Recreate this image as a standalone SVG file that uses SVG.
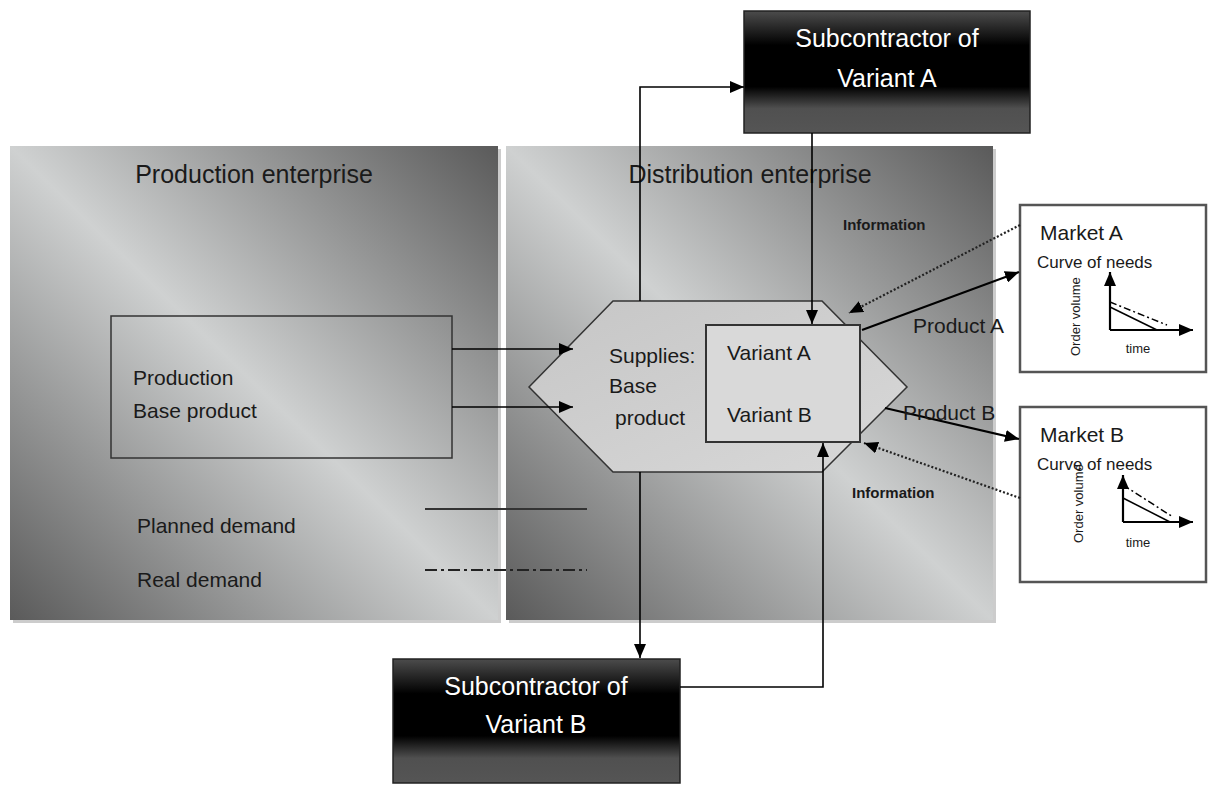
<svg xmlns="http://www.w3.org/2000/svg" width="1211" height="786" viewBox="0 0 1211 786">
<defs>
<linearGradient id="panel" x1="0" y1="1" x2="1" y2="0">
<stop offset="0" stop-color="#5a5a5a"/>
<stop offset="0.5" stop-color="#cfd1d1"/>
<stop offset="1" stop-color="#5a5a5a"/>
</linearGradient>
<linearGradient id="sub" x1="0" y1="0" x2="0" y2="1">
<stop offset="0" stop-color="#4c4c4c"/>
<stop offset="0.28" stop-color="#000"/>
<stop offset="0.62" stop-color="#000"/>
<stop offset="0.8" stop-color="#505050"/>
<stop offset="1" stop-color="#555"/>
</linearGradient>
<linearGradient id="hex" x1="0" y1="0" x2="1" y2="1">
<stop offset="0" stop-color="#c6c6c6"/>
<stop offset="1" stop-color="#d8d8d8"/>
</linearGradient>
<marker id="arr" viewBox="0 0 14 12" refX="14" refY="6" markerWidth="14" markerHeight="12" markerUnits="userSpaceOnUse" orient="auto">
<path d="M0,0 L14,6 L0,12 z" fill="#000"/>
</marker>
</defs>
<style>
text{font-family:"Liberation Sans",Arial,sans-serif;fill:#1a1a1a}
.big{font-size:25px}
.mid{font-size:21px}
.sm{font-size:17px}
.tiny{font-size:13px}
.info{font-size:15px;font-weight:bold}
.white{fill:#fff}
.panel{fill:url(#panel)}
.shadow{fill:#aaa;opacity:0.6}
.sub{fill:url(#sub);stroke:#222;stroke-width:1.5}
.box{fill:none;stroke:#333;stroke-width:1.5}
.market{fill:#fff;stroke:#555;stroke-width:2.5}
.conn{fill:none;stroke:#000;stroke-width:1.6}
.thick{fill:none;stroke:#000;stroke-width:2.2}
.dot{fill:none;stroke:#222;stroke-width:2.2;stroke-dasharray:2 2}
.solidleg{stroke:#333;stroke-width:2}
.dashleg{stroke:#222;stroke-width:2;stroke-dasharray:12 4 3 4}
</style>

<g id="production-enterprise">
<rect class="shadow" x="13" y="149" width="488" height="474"/>
<rect class="panel" x="10" y="146" width="488" height="474"/>
<text class="big" x="254" y="183" text-anchor="middle">Production enterprise</text>
</g>

<g id="distribution-enterprise">
<rect class="shadow" x="509" y="149" width="487" height="474"/>
<rect class="panel" x="506" y="146" width="487" height="474"/>
<text class="big" x="750" y="183" text-anchor="middle">Distribution enterprise</text>
</g>

<g id="production-base-product">
<rect class="box" x="111" y="316" width="341" height="142"/>
<text class="mid" x="133" y="385">Production</text>
<text class="mid" x="133" y="418">Base product</text>
</g>

<g id="legend">
<text class="mid" x="137" y="533">Planned demand</text>
<text class="mid" x="137" y="587">Real demand</text>
<line class="solidleg" x1="425" y1="509" x2="587" y2="509"/>
<line class="dashleg" x1="425" y1="570" x2="587" y2="570"/>
</g>

<g id="supplies-hexagon">
<polygon points="529,387 613,301 822,301 907,387 822,472 613,472" fill="url(#hex)" stroke="#333" stroke-width="1.5"/>
<text class="mid" x="609" y="363">Supplies:</text>
<text class="mid" x="609" y="393">Base</text>
<text class="mid" x="615" y="425">product</text>
</g>

<g id="variants">
<rect x="706" y="325" width="154" height="117" fill="#d9d9d9" stroke="#333" stroke-width="2"/>
<text class="mid" x="727" y="360">Variant A</text>
<text class="mid" x="727" y="422">Variant B</text>
</g>

<g id="subcontractor-a">
<rect class="sub" x="744" y="11" width="286" height="122"/>
<text class="big white" x="887" y="47" text-anchor="middle">Subcontractor of</text>
<text class="big white" x="887" y="87" text-anchor="middle">Variant A</text>
</g>

<g id="subcontractor-b">
<rect class="sub" x="393" y="659" width="287" height="124"/>
<text class="big white" x="536" y="695" text-anchor="middle">Subcontractor of</text>
<text class="big white" x="536" y="733" text-anchor="middle">Variant B</text>
</g>

<g id="market-a">
<rect class="market" x="1020" y="205" width="186" height="167"/>
<text class="mid" x="1040" y="240">Market A</text>
<text class="sm" x="1037" y="268">Curve of needs</text>
<line class="thick" x1="1110" y1="330" x2="1110" y2="272" marker-end="url(#arr)"/>
<line class="thick" x1="1110" y1="330" x2="1193" y2="330" marker-end="url(#arr)"/>
<line stroke="#000" stroke-width="1.5" x1="1110" y1="307" x2="1157" y2="330"/>
<line stroke="#000" stroke-width="1.5" stroke-dasharray="7 3 2 3" x1="1110" y1="302" x2="1167" y2="325"/>
<text class="tiny" transform="translate(1080,356) rotate(-90)">Order volume</text>
<text class="tiny" x="1138" y="353" text-anchor="middle">time</text>
</g>

<g id="market-b">
<rect class="market" x="1020" y="407" width="186" height="175"/>
<text class="mid" x="1040" y="442">Market B</text>
<text class="sm" x="1037" y="470">Curve of needs</text>
<line class="thick" x1="1123" y1="522" x2="1123" y2="475" marker-end="url(#arr)"/>
<line class="thick" x1="1123" y1="522" x2="1193" y2="522" marker-end="url(#arr)"/>
<line stroke="#000" stroke-width="1.5" x1="1123" y1="498" x2="1170" y2="522"/>
<line stroke="#000" stroke-width="1.5" stroke-dasharray="7 3 2 3" x1="1123" y1="485" x2="1173" y2="517"/>
<text class="tiny" transform="translate(1083,543) rotate(-90)">Order volume</text>
<text class="tiny" x="1138" y="547" text-anchor="middle">time</text>
</g>

<g id="connectors">
<line class="conn" x1="452" y1="349" x2="573" y2="349" marker-end="url(#arr)"/>
<line class="conn" x1="452" y1="407" x2="573" y2="407" marker-end="url(#arr)"/>
<polyline class="conn" points="640,301 640,87 744,87" marker-end="url(#arr)"/>
<line class="conn" x1="812" y1="133" x2="812" y2="324" marker-end="url(#arr)"/>
<line class="conn" x1="640" y1="472" x2="640" y2="658" marker-end="url(#arr)"/>
<polyline class="conn" points="680,687 823,687 823,443" marker-end="url(#arr)"/>
<line class="thick" x1="862" y1="330" x2="1019" y2="272" marker-end="url(#arr)"/>
<line class="thick" x1="885" y1="408" x2="1019" y2="439" marker-end="url(#arr)"/>
<line class="dot" x1="1020" y1="225" x2="849" y2="313" marker-end="url(#arr)"/>
<line class="dot" x1="1020" y1="498" x2="864" y2="443" marker-end="url(#arr)"/>
<text class="mid" x="913" y="333">Product A</text>
<text class="mid" x="903" y="420">Product B</text>
<text class="info" x="843" y="230">Information</text>
<text class="info" x="852" y="498">Information</text>
</g>
</svg>
